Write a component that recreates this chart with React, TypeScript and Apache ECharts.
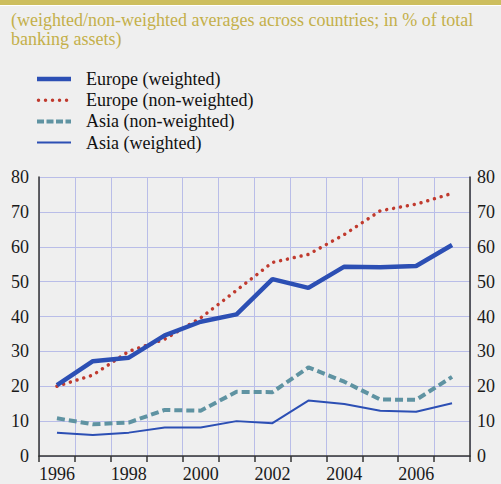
import React, { useEffect, useRef } from "react";
import * as echarts from "echarts";

const years = ["1996", "1997", "1998", "1999", "2000", "2001", "2002", "2003", "2004", "2005", "2006", "2007"];
const europeWeighted = [20.3, 27.2, 28.2, 34.6, 38.5, 40.6, 50.7, 48.2, 54.3, 54.1, 54.5, 60.5];
const europeNonWeighted = [20.0, 23.2, 30.0, 33.5, 39.6, 47.5, 55.5, 57.8, 63.5, 70.3, 72.2, 75.3];
const asiaNonWeighted = [10.8, 9.1, 9.6, 13.2, 13.0, 18.4, 18.3, 25.4, 21.3, 16.2, 16.1, 22.7];
const asiaWeighted = [6.7, 6.0, 6.7, 8.2, 8.2, 10.0, 9.4, 15.9, 14.9, 13.0, 12.7, 15.1];
const subtitle = "(weighted/non-weighted averages across countries; in % of total\nbanking assets)";
const seriesNames = ["Europe (weighted)", "Europe (non-weighted)", "Asia (non-weighted)", "Asia (weighted)"];

const FONT = "Liberation Serif";

const BLUE = "#2c4fb4";
const RED = "#c03a2e";
const TEAL = "#5f93a2";

const legendStyles = [
  { stroke: BLUE, lineWidth: 4.5 },
  { stroke: RED, lineWidth: 3.5, lineDash: [0.01, 7], lineCap: "round" },
  { stroke: TEAL, lineWidth: 4, lineDash: [7, 2.5] },
  { stroke: BLUE, lineWidth: 2 },
];

export default function App() {
  const ref = useRef<HTMLDivElement>(null);
  useEffect(() => {
    if (!ref.current) return;
    const chart = echarts.init(ref.current, undefined, { renderer: "svg" });
    const axisLabel = { fontFamily: FONT, fontSize: 18, color: "#1a1a1a" };
    const legendGraphics: any[] = [];
    seriesNames.forEach((name, i) => {
      const cy = 79 + i * 21.2;
      legendGraphics.push({
        type: "line",
        shape: { x1: i === 1 ? 38.5 : 37, y1: cy, x2: 71, y2: cy },
        style: legendStyles[i],
      });
      legendGraphics.push({
        type: "text",
        x: 86,
        y: cy,
        style: { text: name, fontFamily: FONT, fontSize: 18, fill: "#111", textVerticalAlign: "middle", verticalAlign: "middle" },
      });
    });
    chart.setOption({
      animation: false,
      backgroundColor: "#efefef",
      textStyle: { fontFamily: FONT },
      title: {
        text: subtitle,
        left: 6,
        top: 5,
        textStyle: { fontFamily: FONT, fontSize: 18, fontWeight: "normal", color: "#c4b04a", lineHeight: 19 },
      },
      graphic: [
        { type: "rect", shape: { x: 0, y: 0, width: 501, height: 5 }, style: { fill: "#cdbe5e" } },
        { type: "rect", shape: { x: 0, y: 5, width: 501, height: 1 }, style: { fill: "#ffffff" } },
        ...legendGraphics,
      ],
      grid: { left: 39, right: 31, top: 177, bottom: 28, containLabel: false },
      xAxis: {
        type: "category",
        data: years,
        boundaryGap: true,
        axisLine: { show: true, lineStyle: { color: "#333", width: 1.5 } },
        axisTick: { show: true, interval: 0, length: 6, lineStyle: { color: "#333", width: 1.5 } },
        axisLabel: { ...axisLabel, interval: 1, margin: 9 },
        splitLine: { show: true, interval: 0, lineStyle: { color: "#b9bde8", width: 1 } },
      },
      yAxis: [
        {
          type: "value",
          min: 0,
          max: 80,
          interval: 10,
          position: "left",
          axisLine: { show: true, lineStyle: { color: "#333", width: 1.5 } },
          axisTick: { show: false },
          axisLabel: { ...axisLabel, margin: 10 },
          splitLine: { show: true, lineStyle: { color: "#b9bde8", width: 1 } },
        },
        {
          type: "value",
          min: 0,
          max: 80,
          interval: 10,
          position: "right",
          axisLine: { show: true, lineStyle: { color: "#333", width: 1.5 } },
          axisTick: { show: false },
          axisLabel: { ...axisLabel, margin: 7 },
          splitLine: { show: false },
        },
      ],
      series: [
        {
          name: seriesNames[0],
          type: "line",
          data: europeWeighted,
          symbol: "none",
          color: BLUE,
          lineStyle: { color: BLUE, width: 4.5 },
          z: 5,
        },
        {
          name: seriesNames[1],
          type: "line",
          data: europeNonWeighted,
          symbol: "none",
          color: RED,
          lineStyle: { color: RED, width: 3.5, type: [0.01, 7], cap: "round" },
          z: 4,
        },
        {
          name: seriesNames[2],
          type: "line",
          data: asiaNonWeighted,
          symbol: "none",
          color: TEAL,
          lineStyle: { color: TEAL, width: 4, type: [8, 4] },
          z: 3,
        },
        {
          name: seriesNames[3],
          type: "line",
          data: asiaWeighted,
          symbol: "none",
          color: BLUE,
          lineStyle: { color: BLUE, width: 2 },
          z: 3,
        },
      ],
    });
    return () => chart.dispose();
  }, []);
  return <div ref={ref} style={{ position: "fixed", left: 0, top: 0, width: 501, height: 484 }} />;
}
